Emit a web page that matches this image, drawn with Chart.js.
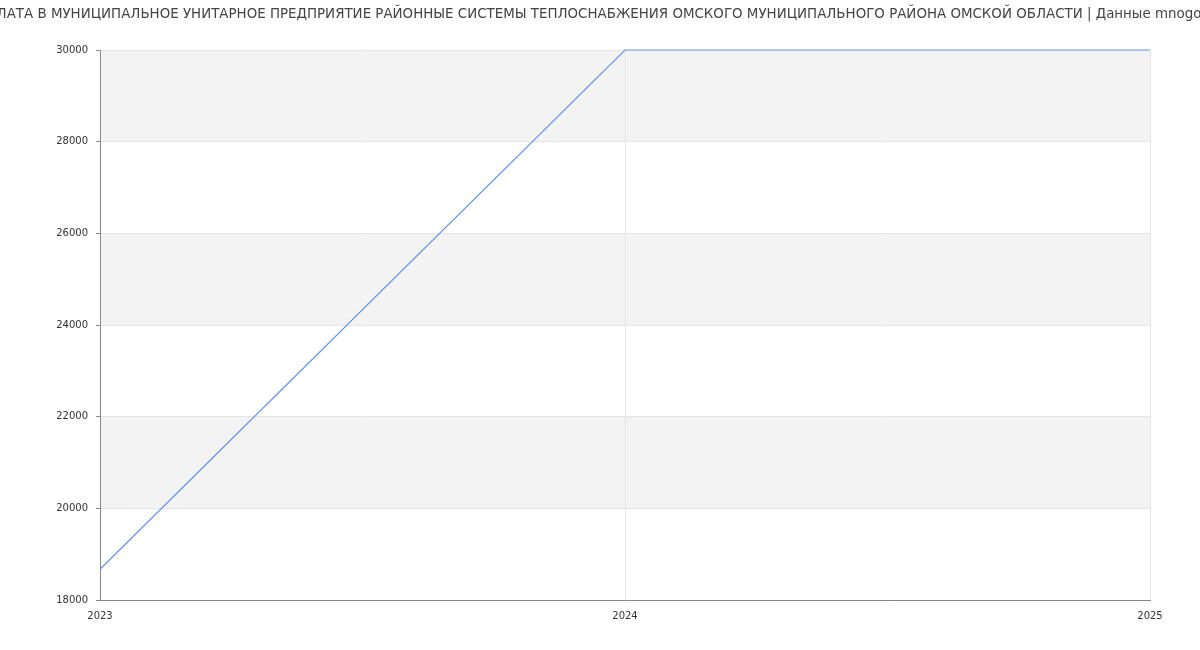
<!DOCTYPE html>
<html lang="ru">
<head>
    <meta charset="UTF-8">
    <title>Зарплата</title>
    <script src="https://cdn.jsdelivr.net/npm/chart.js@4.4.0/dist/chart.umd.min.js"></script>
    <style>
        body { margin: 0; padding: 0; background: #fff; }
        #wrap { width: 1200px; height: 650px; }
    </style>
</head>
<body>
<div id="wrap"><canvas id="salaryChart"></canvas></div>
<script>
    // Data
    const titleText = 'СРЕДНЯЯ ЗАРПЛАТА В МУНИЦИПАЛЬНОЕ УНИТАРНОЕ ПРЕДПРИЯТИЕ РАЙОННЫЕ СИСТЕМЫ ТЕПЛОСНАБЖЕНИЯ ОМСКОГО МУНИЦИПАЛЬНОГО РАЙОНА ОМСКОЙ ОБЛАСТИ | Данные mnogo-rabota.ru';
    const years = [2023, 2024, 2025];
    const salary = [18670, 30000, 30000];
    const yMin = 18000;
    const yMax = 30000;
    const yStep = 2000;

    // alternating gray bands between y ticks
    const bandsPlugin = {
        id: 'bands',
        beforeDraw(chart) {
            const { ctx, chartArea, scales } = chart;
            ctx.save();
            ctx.fillStyle = '#f3f3f3';
            for (let v = yMax; v > yMin; v -= 2 * yStep) {
                const top = scales.y.getPixelForValue(v);
                const bottom = scales.y.getPixelForValue(v - yStep);
                ctx.fillRect(chartArea.left, top, chartArea.right - chartArea.left, bottom - top);
            }
            ctx.restore();
        }
    };

    // the title is wider than the canvas, so it runs off both edges
    const titlePlugin = {
        id: 'topTitle',
        afterDraw(chart) {
            const ctx = chart.ctx;
            ctx.save();
            ctx.font = '13.4px "DejaVu Sans"';
            ctx.fillStyle = '#444';
            ctx.textAlign = 'center';
            ctx.textBaseline = 'middle';
            ctx.fillText(titleText, chart.width / 2 - 20, 15);
            ctx.restore();
        }
    };

    const ctx = document.getElementById('salaryChart').getContext('2d');
    new Chart(ctx, {
        type: 'line',
        data: {
            datasets: [{
                data: years.map((y, i) => ({ x: y, y: salary[i] })),
                borderColor: '#6495ed',
                borderWidth: 1.2,
                pointRadius: 0,
                tension: 0,
                fill: false,
                clip: false
            }]
        },
        options: {
            responsive: true,
            maintainAspectRatio: false,
            animation: false,
            layout: { padding: { top: 50, right: 50, left: 0, bottom: 0 } },
            plugins: {
                legend: { display: false },
                title: { display: false },
                tooltip: { enabled: false }
            },
            scales: {
                x: {
                    type: 'linear',
                    min: years[0],
                    max: years[years.length - 1],
                    ticks: {
                        stepSize: 1,
                        color: '#333',
                        font: { family: 'DejaVu Sans', size: 10 },
                        callback: v => String(v),
                        padding: 10
                    },
                    grid: { color: '#e4e4e4', drawTicks: false },
                    border: { color: '#888' },
                    afterFit(scale) { scale.height = 50; }
                },
                y: {
                    min: yMin,
                    max: yMax,
                    ticks: {
                        stepSize: yStep,
                        color: '#333',
                        font: { family: 'DejaVu Sans', size: 10 },
                        callback: v => String(v),
                        padding: 8
                    },
                    grid: { color: '#e4e4e4', tickColor: '#888', tickLength: 4 },
                    border: { color: '#888' },
                    afterFit(scale) { scale.width = 100; }
                }
            }
        },
        plugins: [bandsPlugin, titlePlugin]
    });
</script>
</body>
</html>
